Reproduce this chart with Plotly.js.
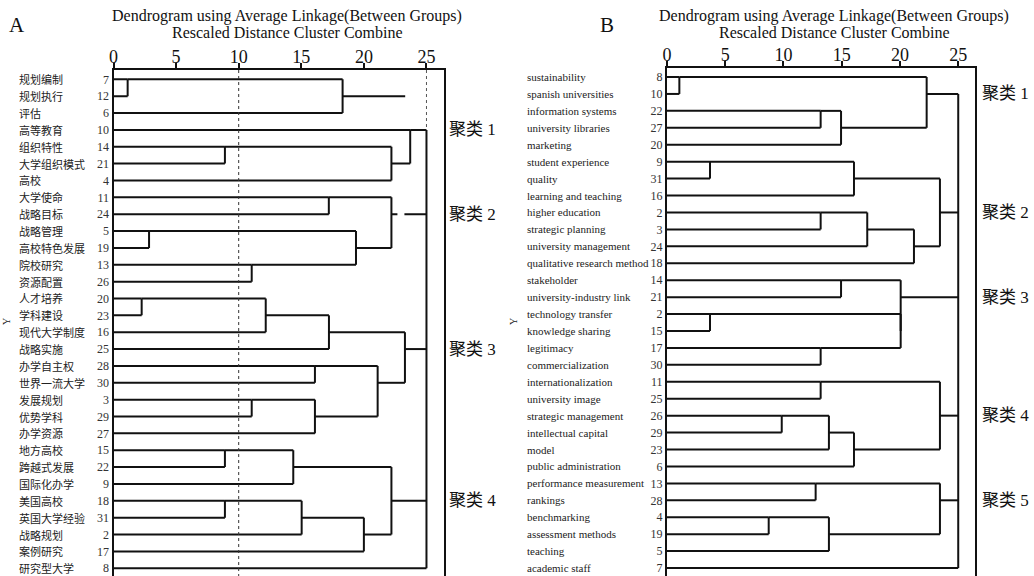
<!DOCTYPE html>
<html>
<head>
<meta charset="utf-8">
<script src="https://cdn.plot.ly/plotly-3.0.1.min.js"></script>
<style>html,body{margin:0;padding:0;background:#fff;}#chart{width:1034px;height:576px;}</style>
</head>
<body>
<div id="chart"></div>
<script>
// ---------------- Panel A data ----------------
const leftLabels = ['规划编制','规划执行','评估','高等教育','组织特性','大学组织模式','高校','大学使命','战略目标','战略管理',
  '高校特色发展','院校研究','资源配置','人才培养','学科建设','现代大学制度','战略实施','办学自主权','世界一流大学','发展规划',
  '优势学科','办学资源','地方高校','跨越式发展','国际化办学','美国高校','英国大学经验','战略规划','案例研究','研究型大学'];
const leftIds = [7,12,6,10,14,21,4,11,24,5,19,13,26,20,23,16,25,28,30,3,29,27,15,22,9,18,31,2,17,8];
// merges: positive = leaf row, negative = earlier merge (1-based)
const leftMergeA = [1,-1,5,-3,4,8,10,12,-7,-6,14,-11,-12,18,20,-15,-14,-13,23,-19,26,-21,-22,-20];
const leftMergeB = [2,3,6,7,-4,9,11,13,-8,-9,15,16,17,19,21,22,-16,-17,24,25,27,28,29,-23];
const leftMergeH = [1.13,18.3,8.9,22.2,23.7,17.2,2.84,11.04,19.37,22.2,2.25,12.16,17.21,16.09,11.04,16.09,21.1,23.28,8.9,14.36,8.9,15.03,20.0,22.2];
const leftRootKids = [-5,-10,-18,-24,30];
const leftRootRows = [4,9,17,26,30];
const leftRootH = 25;
const leftTailNode = [-2];
const leftTailTo = [23.3];
const leftClusters = ['聚类 1','聚类 2','聚类 3','聚类 4'];
const leftClusterRows = [4,9,17,26];

// ---------------- Panel B data ----------------
const rightLabels = ['sustainability','spanish universities','information systems','university libraries','marketing',
  'student experience','quality','learning and teaching','higher education','strategic planning','university management',
  'qualitative research method','stakeholder','university-industry link','technology transfer','knowledge sharing',
  'legitimacy','commercialization','internationalization','university image','strategic management','intellectual capital',
  'model','public administration','performance measurement','rankings','benchmarking','assessment methods','teaching','academic staff'];
const rightIds = [8,10,22,27,20,9,31,16,2,3,24,18,14,21,2,15,17,30,11,25,26,29,23,6,13,28,4,19,5,7];
const rightMergeA = [1,3,-2,-1,6,-5,9,-7,-8,-6,13,15,17,-12,-11,19,21,-17,-18,-16,25,27,-22,-21];
const rightMergeB = [2,4,5,-3,7,8,10,11,12,-9,14,16,18,-13,-14,20,22,23,24,-19,26,28,29,-23];
const rightMergeH = [1.06,13.19,14.94,22.29,3.69,16.05,13.19,17.19,21.2,23.43,14.94,3.69,13.19,20.06,20.06,13.19,9.85,13.9,16.05,23.43,12.76,8.73,13.9,23.43];
const rightRootKids = [-4,-10,-15,-20,-24,30];
const rightRootRows = [2,9,14,21,26,30];
const rightRootH = 25;
const rightClusters = ['聚类 1','聚类 2','聚类 3','聚类 4','聚类 5'];
const rightClusterRows = [2,9,14,21,26];

const axisTicks = [0,5,10,15,20,25];
const titleLine1 = 'Dendrogram using Average Linkage(Between Groups)';
const titleLine2 = 'Rescaled Distance Cluster Combine';

// style of each root connector (left panel: the connector of cluster 2 is broken)
const leftRootDash = ['solid', '6px,7px,40px', 'solid', 'solid', 'solid'];

// -------------- build dendrogram segments ---------------
function buildSegments(A, B, H, rootKids, rootRows, rootH, tailNode, tailTo) {
  const pos = [], hgt = [], xs = [], ys = [], roots = [];
  const info = c => c > 0 ? {p: c, h: 0} : {p: pos[-c - 1], h: hgt[-c - 1]};
  const seg = (x0, y0, x1, y1) => { xs.push(x0, x1, null); ys.push(y0, y1, null); };
  for (let k = 0; k < A.length; k++) {
    const a = info(A[k]), b = info(B[k]), h = H[k];
    seg(a.h, a.p, h, a.p);
    seg(b.h, b.p, h, b.p);
    seg(h, a.p, h, b.p);
    pos[k] = Math.floor((a.p + b.p) / 2);
    hgt[k] = h;
  }
  rootKids.forEach((c, i) => { const n = info(c); roots.push({x: [n.h, rootH], y: [rootRows[i], rootRows[i]]}); });
  seg(rootH, Math.min(...rootRows), rootH, Math.max(...rootRows));
  (tailNode || []).forEach((c, i) => { const n = info(c); seg(n.h, n.p, tailTo[i], n.p); });
  return {x: xs, y: ys, roots: roots};
}

const L = buildSegments(leftMergeA, leftMergeB, leftMergeH, leftRootKids, leftRootRows, leftRootH, leftTailNode, leftTailTo);
const R = buildSegments(rightMergeA, rightMergeB, rightMergeH, rightRootKids, rightRootRows, rightRootH);

const serif = 'Liberation Serif, Times New Roman, serif';
const cjk = 'Liberation Serif, Noto Sans CJK SC, serif';
const lineColor = '#111', lineW = 2;

const traces = [
  {x: L.x, y: L.y, xaxis: 'x', yaxis: 'y', mode: 'lines', line: {color: lineColor, width: lineW}, hoverinfo: 'skip'},
  {x: R.x, y: R.y, xaxis: 'x2', yaxis: 'y2', mode: 'lines', line: {color: lineColor, width: lineW}, hoverinfo: 'skip'}
];
L.roots.forEach((r, i) => traces.push({x: r.x, y: r.y, xaxis: 'x', yaxis: 'y', mode: 'lines',
  line: {color: lineColor, width: lineW, dash: leftRootDash[i]}, hoverinfo: 'skip'}));
R.roots.forEach(r => traces.push({x: r.x, y: r.y, xaxis: 'x2', yaxis: 'y2', mode: 'lines',
  line: {color: lineColor, width: lineW}, hoverinfo: 'skip'}));

const rowsArr = leftIds.map((_, i) => i + 1);
const W = 1034, Hh = 576;

function xAxis(domain, range) {
  return {domain: domain, range: range, side: 'top', showline: true, linewidth: 2, linecolor: '#111',
    ticks: 'outside', ticklen: 5, tickwidth: 2, tickcolor: '#111', tickvals: axisTicks,
    ticklabelstandoff: -7,
    showgrid: false, zeroline: false, fixedrange: true,
    tickfont: {family: serif, size: 18, color: '#111'}};
}
function yAxis(domain, range, ids, anchor) {
  return {domain: domain, range: range, anchor: anchor, showline: true, mirror: true, linewidth: 2, linecolor: '#111',
    ticks: '', tickvals: rowsArr, ticktext: ids.map(String), showgrid: false, zeroline: false, fixedrange: true,
    tickfont: {family: serif, size: 12, color: '#333'}};
}

const annotations = [];
leftLabels.forEach((t, i) => annotations.push({xref: 'paper', yref: 'y', x: 17 / W, y: i + 1, xanchor: 'left', yanchor: 'middle',
  text: t, showarrow: false, font: {family: 'Noto Sans CJK SC', size: 11, color: '#222'}}));
rightLabels.forEach((t, i) => annotations.push({xref: 'paper', yref: 'y2', x: 525 / W, y: i + 1, xanchor: 'left', yanchor: 'middle',
  text: t, showarrow: false, font: {family: serif, size: 11, color: '#222'}}));
leftClusters.forEach((t, i) => annotations.push({xref: 'paper', yref: 'y', x: 447 / W, y: leftClusterRows[i], xanchor: 'left', yanchor: 'middle',
  text: t, showarrow: false, font: {family: cjk, size: 17, color: '#111'}}));
rightClusters.forEach((t, i) => annotations.push({xref: 'paper', yref: 'y2', x: 980 / W, y: rightClusterRows[i], xanchor: 'left', yanchor: 'middle',
  text: t, showarrow: false, font: {family: cjk, size: 17, color: '#111'}}));
[[287, 'A', 17], [834, 'B', 607]].forEach(([cx, letter, lx]) => {
  annotations.push({xref: 'paper', yref: 'paper', x: cx / W, y: 1 - 16 / Hh, xanchor: 'center', yanchor: 'middle',
    text: titleLine1, showarrow: false, font: {family: serif, size: 16, color: '#111'}});
  annotations.push({xref: 'paper', yref: 'paper', x: cx / W, y: 1 - 33 / Hh, xanchor: 'center', yanchor: 'middle',
    text: titleLine2, showarrow: false, font: {family: serif, size: 16, color: '#111'}});
  annotations.push({xref: 'paper', yref: 'paper', x: lx / W, y: 1 - 25 / Hh, xanchor: 'center', yanchor: 'middle',
    text: letter, showarrow: false, font: {family: serif, size: 21, color: '#111'}});
});
[[6, 'y'], [513, 'y2']].forEach(([px, ax]) => annotations.push({xref: 'paper', yref: 'paper', x: px / W, y: 1 - 322 / Hh,
  xanchor: 'center', yanchor: 'middle', text: 'Y', textangle: -90, showarrow: false, font: {family: serif, size: 10, color: '#222'}}));

const shapes = [
  {type: 'line', xref: 'x', yref: 'y', x0: 10, x1: 10, y0: 0.45, y1: 30.46, line: {color: '#333', width: 1, dash: 'dot'}},
  {type: 'line', xref: 'x', yref: 'y', x0: 25, x1: 25, y0: 0.45, y1: 4, line: {color: '#555', width: 1, dash: 'dot'}}
];

const layout = {
  width: W, height: Hh, margin: {l: 0, r: 0, t: 0, b: 0},
  paper_bgcolor: '#fff', plot_bgcolor: '#fff', showlegend: false, hovermode: false,
  xaxis: Object.assign(xAxis([113.5 / W, 444 / W], [0, 26.4]), {anchor: 'y'}),
  yaxis: yAxis([0, (Hh - 70) / Hh], [30.46, 0.448], leftIds, 'x'),
  xaxis2: Object.assign(xAxis([667 / W, 975 / W], [0, 26.44]), {anchor: 'y2'}),
  yaxis2: yAxis([0, (Hh - 68) / Hh], [30.47, 0.468], rightIds, 'x2'),
  annotations: annotations, shapes: shapes
};

Plotly.newPlot('chart', traces, layout, {displayModeBar: false, staticPlot: true});
</script>
</body>
</html>
